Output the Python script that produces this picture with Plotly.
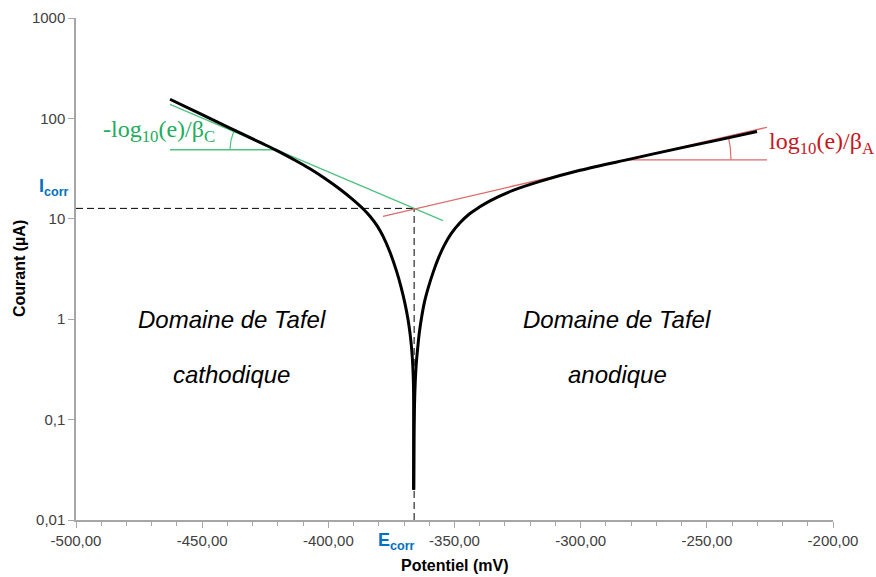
import numpy as np
import plotly.graph_objects as go

# Polarisation curve, cathodic branch (potential in mV, current in µA)
e_cath = [-462.75, -450.86, -438.97, -427.08, -420.74, -413.21, -407.27, -401.32,
          -395.38, -390.62, -386.26, -383.49, -380.71, -378.34, -375.56, -372.91,
          -371.20, -369.62, -368.43, -367.64, -366.96, -366.53, -366.25, -366.22]
i_cath = [155.2, 111.5, 80.1, 57.6, 48.3, 38.3, 31.5, 25.2,
          19.7, 15.8, 12.6, 10.6, 8.55, 6.71, 4.64, 2.98,
          2.10, 1.43, 1.00, 0.726, 0.50, 0.344, 0.212, 0.02]

# Polarisation curve, anodic branch
e_anod = [-366.13, -366.05, -365.85, -365.57, -365.18, -364.66, -363.95, -363.08,
          -361.89, -360.30, -358.40, -356.34, -354.16, -351.39, -347.82, -344.25,
          -340.29, -335.93, -326.82, -316.12, -300.26, -280.45, -260.63, -244.78, -230.12]
i_anod = [0.02, 0.0627, 0.140, 0.232, 0.351, 0.494, 0.731, 1.03,
          1.49, 2.10, 2.96, 4.08, 5.38, 7.08, 9.12, 11.1,
          13.0, 15.1, 19.2, 23.6, 30.4, 39.3, 50.6, 61.5, 74.1]

# Corrosion point
e_corr = -366.0
i_corr = 12.7

# Tafel lines (end points) and their horizontal references
tafel_c_e = [-462.75, -354.56]
tafel_c_i = [137.7, 9.6]
ref_c_e = [-462.75, -420.74]
ref_c_i = [48.7, 48.7]

tafel_a_e = [-378.34, -226.16]
tafel_a_i = [10.6, 81.6]
ref_a_e = [-281.24, -226.16]
ref_a_i = [38.7, 38.7]

x_ticks = [-500, -450, -400, -350, -300, -250, -200]
x_tick_text = ["-500,00", "-450,00", "-400,00", "-350,00", "-300,00", "-250,00", "-200,00"]
y_ticks = [0.01, 0.1, 1, 10, 100, 1000]
y_tick_text = ["0,01", "0,1", "1", "10", "100", "1000"]

GREEN_TXT = "#22ad5c"
GREEN_LN = "#4cc47f"
RED_TXT = "#c8161d"
RED_LN = "#dd6b6b"
BLUE = "#0070c0"
AXIS = "#a6a6a6"
TICK_TXT = "#404040"

W, H = 876, 577
ML, MR, MT, MB = 76, 43, 18, 57
px_per_mv = (W - ML - MR) / 300.0
px_per_dec = (H - MT - MB) / 5.0


def arc(e0, i0, r_px, a0, a1, n=40):
    """Circular arc (radius in pixels) around a point, returned in data units."""
    t = np.radians(np.linspace(a0, a1, n))
    e = e0 + r_px * np.cos(t) / px_per_mv
    i = 10 ** (np.log10(i0) + r_px * np.sin(t) / px_per_dec)
    return e, i


fig = go.Figure()

dash = "7px,4px"
fig.add_trace(go.Scatter(x=[-500, e_corr], y=[i_corr, i_corr], mode="lines",
                         line=dict(color="black", width=1, dash=dash), hoverinfo="skip"))
fig.add_trace(go.Scatter(x=[e_corr, e_corr], y=[0.01, i_corr], mode="lines",
                         line=dict(color="black", width=1, dash=dash), hoverinfo="skip"))

# Tangent lines
for xs, ys, c in [(tafel_c_e, tafel_c_i, GREEN_LN), (ref_c_e, ref_c_i, GREEN_LN),
                  (tafel_a_e, tafel_a_i, RED_LN), (ref_a_e, ref_a_i, RED_LN)]:
    fig.add_trace(go.Scatter(x=xs, y=ys, mode="lines", line=dict(color=c, width=1.3),
                             hoverinfo="skip"))

# Angle arcs
slope_c = np.degrees(np.arctan2(
    (np.log10(tafel_c_i[0]) - np.log10(tafel_c_i[1])) * px_per_dec,
    (tafel_c_e[1] - tafel_c_e[0]) * px_per_mv))
slope_a = np.degrees(np.arctan2(
    (np.log10(tafel_a_i[1]) - np.log10(tafel_a_i[0])) * px_per_dec,
    (tafel_a_e[1] - tafel_a_e[0]) * px_per_mv))
ae, ai = arc(ref_c_e[1], ref_c_i[1], 46, 180 - slope_c, 180)
fig.add_trace(go.Scatter(x=ae, y=ai, mode="lines", line=dict(color=GREEN_LN, width=1.2),
                         hoverinfo="skip"))
ae, ai = arc(ref_a_e[0], ref_a_i[0], 103, 0, slope_a)
fig.add_trace(go.Scatter(x=ae, y=ai, mode="lines", line=dict(color=RED_LN, width=1.2),
                         hoverinfo="skip"))

# Measured curve
for xs, ys in [(e_cath, i_cath), (e_anod, i_anod)]:
    fig.add_trace(go.Scatter(x=xs, y=ys, mode="lines",
                             line=dict(color="black", width=3, shape="spline", smoothing=0.9),
                             hoverinfo="skip"))

serif = "Liberation Serif, Times New Roman, serif"
sans = "Liberation Sans, Arial, sans-serif"
ann = [
    dict(x=-467.1, y=1.877, text="-log<sub>10</sub>(e)/β<sub>C</sub>",
         font=dict(family=serif, size=24, color=GREEN_TXT)),
    dict(x=-204.4, y=1.757, text="log<sub>10</sub>(e)/β<sub>A</sub>",
         font=dict(family=serif, size=24, color=RED_TXT)),
    dict(x=-438.2, y=0.0, text="<i>Domaine de Tafel</i>",
         font=dict(family=sans, size=24, color="black")),
    dict(x=-438.2, y=-0.555, text="<i>cathodique</i>",
         font=dict(family=sans, size=24, color="black")),
    dict(x=-285.6, y=0.0, text="<i>Domaine de Tafel</i>",
         font=dict(family=sans, size=24, color="black")),
    dict(x=-285.6, y=-0.555, text="<i>anodique</i>",
         font=dict(family=sans, size=24, color="black")),
]
for a in ann:
    a.update(xref="x", yref="y", showarrow=False, xanchor="center", yanchor="middle")
    fig.add_annotation(**a)

fig.add_annotation(x=-372.8, y=-0.042, xref="x", yref="paper", showarrow=False,
                   text="<b>E<sub>corr</sub></b>", xanchor="center", yanchor="middle",
                   font=dict(family=sans, size=18, color=BLUE))
fig.add_annotation(x=-0.029, y=1.309, xref="paper", yref="y", showarrow=False,
                   text="<b>I<sub>corr</sub></b>", xanchor="center", yanchor="middle",
                   font=dict(family=sans, size=18, color=BLUE))

# Axis titles
fig.add_annotation(x=0.5007, y=-0.0916, xref="paper", yref="paper", showarrow=False,
                   text="<b>Potentiel (mV)</b>", xanchor="center", yanchor="middle",
                   font=dict(family=sans, size=16, color="black"))
fig.add_annotation(x=-0.074, y=0.502, xref="paper", yref="paper", showarrow=False,
                   text="<b>Courant (µA)</b>", xanchor="center", yanchor="middle",
                   textangle=-90, font=dict(family=sans, size=16, color="black"))

fig.update_layout(
    width=W, height=H,
    margin=dict(l=ML, r=MR, t=MT, b=MB, autoexpand=False),
    paper_bgcolor="white", plot_bgcolor="white",
    showlegend=False,
    font=dict(family=sans, size=15, color=TICK_TXT),
)
fig.update_xaxes(
    range=[-500, -200], tickvals=x_ticks, ticktext=x_tick_text, automargin=False,
    showline=True, linecolor=AXIS, linewidth=1.5, showgrid=False, zeroline=False,
    ticks="outside", ticklen=6, tickcolor=AXIS, tickwidth=1.3,
    minor=dict(dtick=10, ticks="outside", ticklen=4, tickcolor=AXIS, tickwidth=1.3),
    tickfont=dict(size=15, color=TICK_TXT),
)
fig.update_yaxes(
    type="log", range=[-2, 3], tickvals=y_ticks, ticktext=y_tick_text, automargin=False,
    showline=True, linecolor=AXIS, linewidth=1.5, showgrid=False, zeroline=False,
    ticks="outside", ticklen=6, tickcolor=AXIS, tickwidth=1.3,
    tickfont=dict(size=15, color=TICK_TXT),
)

fig.write_html("out.html")
